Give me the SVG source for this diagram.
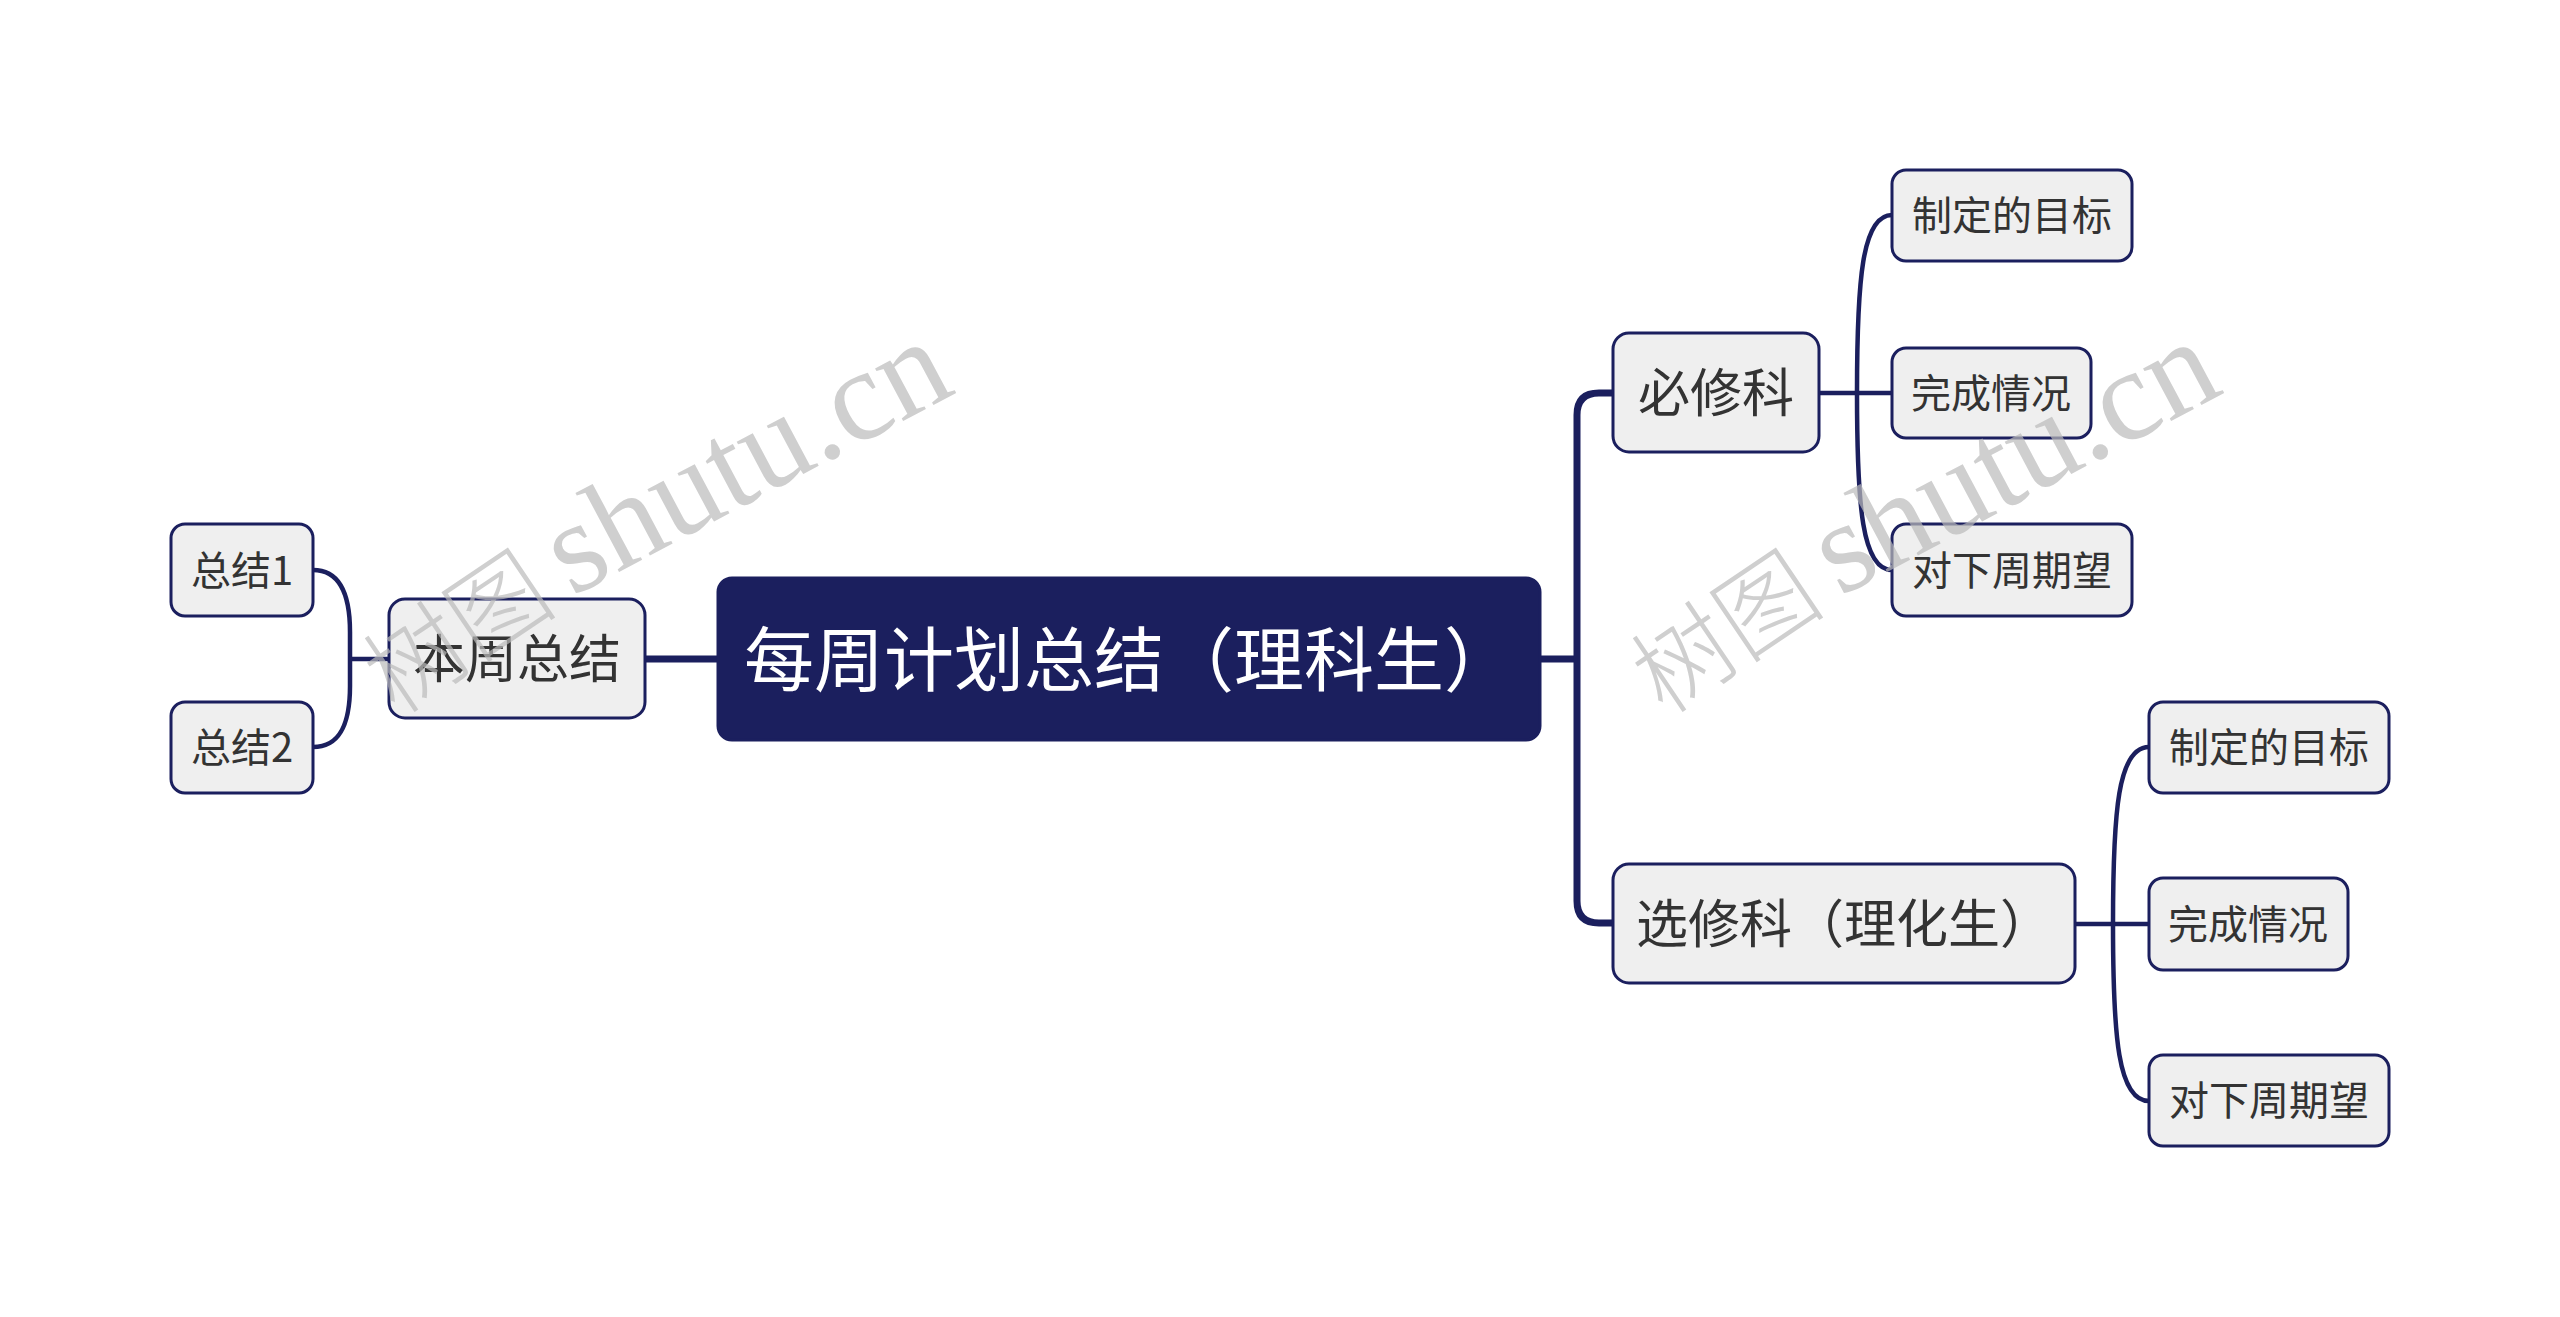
<svg xmlns="http://www.w3.org/2000/svg" width="2560" height="1317" viewBox="0 0 2560 1317">
<style>
.box{fill:#efefef;stroke:#1b1f5e;stroke-width:3}
.main{fill:#1b1f5e;stroke:#1b1f5e;stroke-width:3}
.t{font-family:"Noto Sans CJK SC","Noto Sans",sans-serif;fill:#333333;text-anchor:middle}
.l1{font-size:52px}
.l2{font-size:40px}
.mt{font-size:70px;fill:#ffffff}
.c1{fill:none;stroke:#1b1f5e;stroke-width:7}
.c2{fill:none;stroke:#1b1f5e;stroke-width:4.5}
.wm{font-family:"Liberation Serif","Noto Sans CJK SC",serif;font-size:130px;fill:#bbbbbb;opacity:0.7}
.wc{font-family:"Noto Sans CJK SC",serif;font-size:98px;font-weight:300;fill:#bbbbbb;opacity:0.7}
</style>
<rect width="2560" height="1317" fill="#ffffff"/>
<g id="connectors">
<path class="c1" d="M645 659 L718 659"/>
<path class="c1" d="M1540 659 L1577 659"/>
<path class="c1" d="M1613 393 L1599 393 Q1577 393 1577 415 L1577 901 Q1577 923 1599 923 L1613 923"/>
<path class="c2" d="M389 659 L350 659"/>
<path class="c2" d="M350 659 L350 632 C350 596 341 570 313 570"/>
<path class="c2" d="M350 659 L350 686 C350 722 341 747 313 747"/>
<path class="c2" d="M1819 393 L1892 393"/>
<path class="c2" d="M1857 393 C1857 280 1862 215 1892 215"/>
<path class="c2" d="M1857 393 C1857 506 1862 570 1892 570"/>
<path class="c2" d="M2075 924 L2149 924"/>
<path class="c2" d="M2113 924 C2113 811 2118 747 2149 747"/>
<path class="c2" d="M2113 924 C2113 1037 2118 1101 2149 1101"/>
</g>
<g id="root">
<rect class="main" x="718" y="578" width="822" height="162" rx="14"/>
<text class="t mt" x="1129" y="686">每周计划总结（理科生）</text>
</g>
<g id="n-benzhou">
<rect class="box" x="389" y="599" width="256" height="119" rx="16"/>
<text class="t l1" x="517" y="678">本周总结</text>
</g>
<g id="n-zj1">
<rect class="box" x="171" y="524" width="142" height="92" rx="14"/>
<text class="t l2" x="242" y="585">总结1</text>
</g>
<g id="n-zj2">
<rect class="box" x="171" y="702" width="142" height="91" rx="14"/>
<text class="t l2" x="242" y="762">总结2</text>
</g>
<g id="n-bixiu">
<rect class="box" x="1613" y="333" width="206" height="119" rx="16"/>
<text class="t l1" x="1716" y="412">必修科</text>
</g>
<g id="n-xuanxiu">
<rect class="box" x="1613" y="864" width="462" height="119" rx="16"/>
<text class="t l1" x="1844" y="943">选修科（理化生）</text>
</g>
<g id="n-b1">
<rect class="box" x="1892" y="170" width="240" height="91" rx="14"/>
<text class="t l2" x="2012" y="230">制定的目标</text>
</g>
<g id="n-b2">
<rect class="box" x="1892" y="348" width="199" height="90" rx="14"/>
<text class="t l2" x="1991" y="408">完成情况</text>
</g>
<g id="n-b3">
<rect class="box" x="1892" y="524" width="240" height="92" rx="14"/>
<text class="t l2" x="2012" y="585">对下周期望</text>
</g>
<g id="n-x1">
<rect class="box" x="2149" y="702" width="240" height="91" rx="14"/>
<text class="t l2" x="2269" y="762">制定的目标</text>
</g>
<g id="n-x2">
<rect class="box" x="2149" y="878" width="199" height="92" rx="14"/>
<text class="t l2" x="2248" y="939">完成情况</text>
</g>
<g id="n-x3">
<rect class="box" x="2149" y="1055" width="240" height="91" rx="14"/>
<text class="t l2" x="2269" y="1115">对下周期望</text>
</g>
<g id="watermarks">
<text class="wc" transform="translate(396 716) rotate(-34)">树图</text>
<text class="wm" transform="translate(572 597) rotate(-28)">shutu.cn</text>
<text class="wc" transform="translate(1664 716) rotate(-34)">树图</text>
<text class="wm" transform="translate(1840 597) rotate(-28)">shutu.cn</text>
</g>
</svg>
